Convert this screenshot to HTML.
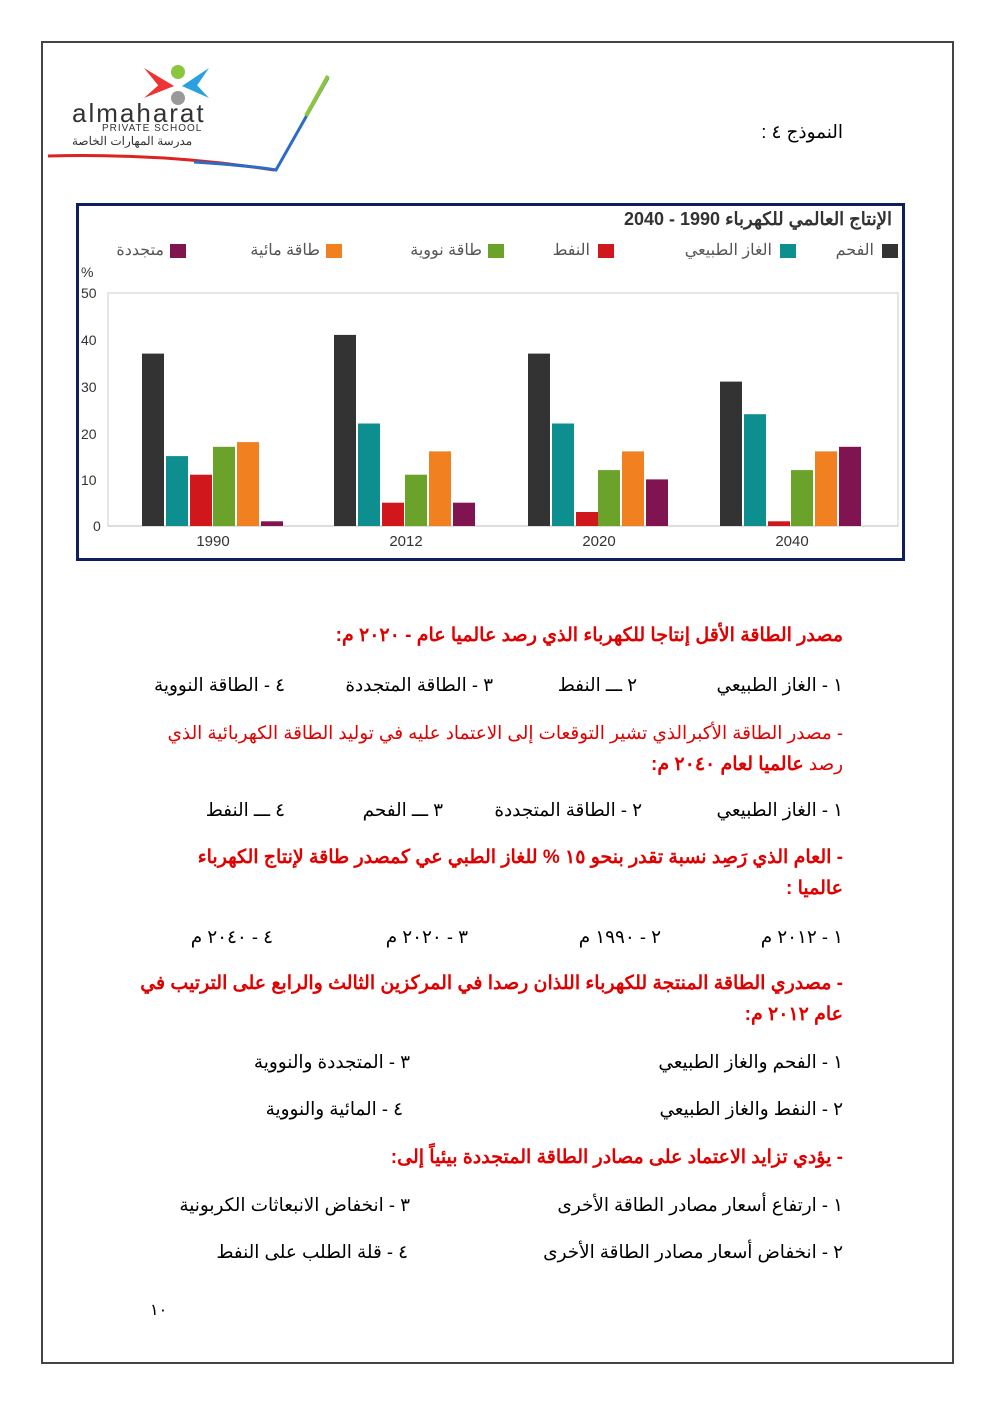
<!DOCTYPE html>
<html><head><meta charset="utf-8"><style>
body{margin:0;width:992px;height:1403px;background:#fff;position:relative;font-family:"Liberation Sans","Noto Sans CJK SC",sans-serif;overflow:hidden}
.frame{position:absolute;left:41px;top:41px;width:909px;height:1319px;border:2px solid #444}
.t{position:absolute;direction:rtl;font-size:18.4px;white-space:nowrap;line-height:22px;color:#000}
.r{color:#e00000;font-weight:bold;font-size:19px}
.rn{color:#e00000}
.rn b{font-size:19px}
.lg{position:absolute;direction:rtl;font-size:16px;color:#555;white-space:nowrap;top:242px;line-height:18px}
.sq{position:absolute;width:16px;height:14px;top:244px}
</style></head><body>
<div class="frame"></div>
<svg style="position:absolute;left:44px;top:58px" width="290" height="120">
<polygon points="100,10 130,28 118,32" fill="#e33"/><polygon points="100,40 130,28 118,24" fill="#e33"/>
<polygon points="165,10 138,28 150,32" fill="#2aa0e0"/><polygon points="165,40 138,28 150,24" fill="#2aa0e0"/>
<circle cx="134" cy="14" r="7" fill="#8cc63f"/><circle cx="134" cy="40" r="7" fill="#999"/>
<text x="28" y="64" font-family="Liberation Sans" font-size="26" fill="#333" letter-spacing="2">almaharat</text>
<text x="58" y="73" font-family="Liberation Sans" font-size="10" fill="#333" letter-spacing="1">PRIVATE SCHOOL</text>
<text x="28" y="87" font-family="Liberation Sans,Noto Sans CJK SC,sans-serif" font-size="12" fill="#333">مدرسة المهارات الخاصة</text>
<path d="M4,98 Q120,95 230,112" stroke="#d22" stroke-width="3" fill="none"/>
<path d="M150,104 Q210,108 232,112 L284,20" stroke="#2b6cc4" stroke-width="3" fill="none"/>
<path d="M262,58 L284,18" stroke="#8cc63f" stroke-width="4" fill="none"/>
</svg>
<div class="t" style="right:149px;top:121px">النموذج ٤ :</div>
<div style="position:absolute;left:76px;top:203px;width:823px;height:352px;border:3px solid #0d1f5c"></div>
<div style="position:absolute;right:100px;top:209px;direction:rtl;font-size:18px;font-weight:bold;color:#333;white-space:nowrap">الإنتاج العالمي للكهرباء 1990 - 2040</div>
<div class="sq" style="left:882px;background:#333"></div><div class="lg" style="right:118px">الفحم</div>
<div class="sq" style="left:780px;background:#0e8f8f"></div><div class="lg" style="right:220px">الغاز الطبيعي</div>
<div class="sq" style="left:598px;background:#d0181c"></div><div class="lg" style="right:402px">النفط</div>
<div class="sq" style="left:488px;background:#6aa22a"></div><div class="lg" style="right:510px">طاقة نووية</div>
<div class="sq" style="left:326px;background:#f08020"></div><div class="lg" style="right:672px">طاقة مائية</div>
<div class="sq" style="left:170px;background:#7f1450"></div><div class="lg" style="right:828px">متجددة</div>
<svg style="position:absolute;left:0;top:0" width="992" height="600" font-family="Liberation Sans,sans-serif">
<g font-size="14" fill="#333">
<text x="81" y="277">%</text>
<text x="81" y="298">50</text><text x="81" y="345">40</text><text x="81" y="392">30</text><text x="81" y="439">20</text><text x="81" y="485">10</text><text x="93" y="531">0</text>
</g>
<rect x="108" y="293" width="790" height="233" fill="none" stroke="#ccc"/>
<line x1="108" y1="526" x2="898" y2="526" stroke="#bbb"/>
<g font-size="15" fill="#333" text-anchor="middle">
<text x="213" y="546">1990</text><text x="406" y="546">2012</text><text x="599" y="546">2020</text><text x="792" y="546">2040</text>
</g>
<g>
<rect x="142" y="353.6" width="22" height="172.4" fill="#333"/>
<rect x="166" y="456.1" width="22" height="69.9" fill="#0e8f8f"/>
<rect x="190" y="474.7" width="22" height="51.3" fill="#d0181c"/>
<rect x="213" y="446.8" width="22" height="79.2" fill="#6aa22a"/>
<rect x="237" y="442.1" width="22" height="83.9" fill="#f08020"/>
<rect x="261" y="521.3" width="22" height="4.7" fill="#7f1450"/>
<rect x="334" y="334.9" width="22" height="191.1" fill="#333"/>
<rect x="358" y="423.5" width="22" height="102.5" fill="#0e8f8f"/>
<rect x="382" y="502.7" width="22" height="23.3" fill="#d0181c"/>
<rect x="405" y="474.7" width="22" height="51.3" fill="#6aa22a"/>
<rect x="429" y="451.4" width="22" height="74.6" fill="#f08020"/>
<rect x="453" y="502.7" width="22" height="23.3" fill="#7f1450"/>
<rect x="528" y="353.6" width="22" height="172.4" fill="#333"/>
<rect x="552" y="423.5" width="22" height="102.5" fill="#0e8f8f"/>
<rect x="576" y="512" width="22" height="14" fill="#d0181c"/>
<rect x="598" y="470.1" width="22" height="55.9" fill="#6aa22a"/>
<rect x="622" y="451.4" width="22" height="74.6" fill="#f08020"/>
<rect x="646" y="479.4" width="22" height="46.6" fill="#7f1450"/>
<rect x="720" y="381.6" width="22" height="144.4" fill="#333"/>
<rect x="744" y="414.2" width="22" height="111.8" fill="#0e8f8f"/>
<rect x="768" y="521.3" width="22" height="4.7" fill="#d0181c"/>
<rect x="791" y="470.1" width="22" height="55.9" fill="#6aa22a"/>
<rect x="815" y="451.4" width="22" height="74.6" fill="#f08020"/>
<rect x="839" y="446.8" width="22" height="79.2" fill="#7f1450"/>
</g>
</svg>
<div class="t r" style="right:149px;top:625px">مصدر الطاقة الأقل إنتاجا للكهرباء الذي رصد عالميا عام - ٢٠٢٠ م:</div>
<div class="t" style="right:149px;top:674px">١ - الغاز الطبيعي</div>
<div class="t" style="right:355px;top:674px">٢ ـــ النفط</div>
<div class="t" style="right:499px;top:674px">٣ - الطاقة المتجددة</div>
<div class="t" style="right:707px;top:674px">٤ - الطاقة النووية</div>
<div class="t rn" style="right:149px;top:722px">- مصدر الطاقة الأكبرالذي تشير التوقعات إلى الاعتماد عليه في توليد الطاقة الكهربائية الذي</div>
<div class="t rn" style="right:149px;top:753px">رصد <b>عالميا لعام ٢٠٤٠ م:</b></div>
<div class="t" style="right:149px;top:799px">١ - الغاز الطبيعي</div>
<div class="t" style="right:350px;top:799px">٢ - الطاقة المتجددة</div>
<div class="t" style="right:549px;top:799px">٣ ـــ الفحم</div>
<div class="t" style="right:707px;top:799px">٤ ـــ النفط</div>
<div class="t r" style="right:149px;top:847px">- العام الذي رَصِد نسبة تقدر بنحو ١٥ % للغاز الطبي عي كمصدر طاقة لإنتاج الكهرباء</div>
<div class="t r" style="right:149px;top:878px">عالميا :</div>
<div class="t" style="right:149px;top:926px">١ - ٢٠١٢ م</div>
<div class="t" style="right:331px;top:926px">٢ - ١٩٩٠ م</div>
<div class="t" style="right:524px;top:926px">٣ - ٢٠٢٠ م</div>
<div class="t" style="right:719px;top:926px">٤ - ٢٠٤٠ م</div>
<div class="t r" style="right:149px;top:973px">- مصدري الطاقة المنتجة للكهرباء اللذان رصدا في المركزين الثالث والرابع على الترتيب في</div>
<div class="t r" style="right:149px;top:1004px">عام ٢٠١٢ م:</div>
<div class="t" style="right:149px;top:1051px">١ - الفحم والغاز الطبيعي</div>
<div class="t" style="right:582px;top:1051px">٣ - المتجددة والنووية</div>
<div class="t" style="right:149px;top:1098px">٢ - النفط والغاز الطبيعي</div>
<div class="t" style="right:589px;top:1098px">٤ - المائية والنووية</div>
<div class="t r" style="right:149px;top:1147px">- يؤدي تزايد الاعتماد على مصادر الطاقة المتجددة بيئياً إلى:</div>
<div class="t" style="right:149px;top:1194px">١ - ارتفاع أسعار مصادر الطاقة الأخرى</div>
<div class="t" style="right:582px;top:1194px">٣ - انخفاض الانبعاثات الكربونية</div>
<div class="t" style="right:149px;top:1241px">٢ - انخفاض أسعار مصادر الطاقة الأخرى</div>
<div class="t" style="right:584px;top:1241px">٤ - قلة الطلب على النفط</div>
<div class="t" style="left:150px;top:1300px;font-size:16px">١٠</div>
</body></html>
